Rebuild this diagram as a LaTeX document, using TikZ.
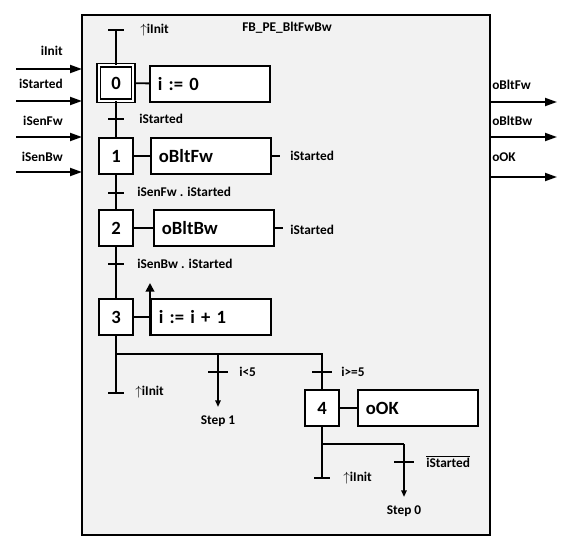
\documentclass[tikz,border=0pt]{standalone}
\usepackage{fontspec}
\setmainfont{Carlito}
\usetikzlibrary{arrows.meta}

\begin{document}
\begin{tikzpicture}[x=0.75pt,y=-0.75pt,
  line width=1.4pt,
  lbl/.style={font=\fontsize{10}{12}\selectfont\bfseries, inner sep=1pt},
  big/.style={font=\fontsize{14}{16}\selectfont\bfseries},
  stepbox/.style={draw, fill=white, big, minimum width=26pt, minimum height=27.5pt, inner sep=0pt},
  initbox/.style={stepbox, double, double distance=1.6pt, line width=1.2pt, minimum width=26pt, minimum height=26.5pt},
  actbox/.style={draw, fill=white, big, anchor=west, text width=78pt, inner xsep=6pt, minimum height=27.5pt, align=left},
  iotip/.style={-{Triangle[length=9pt,width=6pt]}},
  jumptip/.style={-{Triangle[length=5pt,width=4pt]}},
  pulsetip/.style={-{Triangle[length=6.5pt,width=6.5pt]}}]

\useasboundingbox (0,0) rectangle (573,550);

% Function block frame
\draw[fill=black!5, line width=1.5pt] (82,15) rectangle (490,535);
\node[lbl] (title) at (287,28) {FB\_PE\_BltFwBw};

% Inputs
\coordinate (in1) at (82,69);
\coordinate (in2) at (82,101);
\coordinate (in3) at (82,137);
\coordinate (in4) at (82,172);
\draw[iotip] (16,69) -- (in1);
\draw[iotip] (16,101) -- (in2);
\draw[iotip] (16,137) -- (in3);
\draw[iotip] (16,172) -- (in4);
\node[lbl, anchor=east] (iInit) at (65,51) {iInit};
\node[lbl, anchor=east] (iStarted) at (65,84) {iStarted};
\node[lbl, anchor=east] (iSenFw) at (65,121) {iSenFw};
\node[lbl, anchor=east] (iSenBw) at (65,157) {iSenBw};

% Outputs
\coordinate (out1) at (490,102);
\coordinate (out2) at (490,137);
\coordinate (out3) at (490,177);
\draw[iotip] (out1) -- (557,102);
\draw[iotip] (out2) -- (557,137);
\draw[iotip] (out3) -- (557,177);
\node[lbl, anchor=west] (oBltFw) at (490,85) {oBltFw};
\node[lbl, anchor=west] (oBltBw) at (490,121) {oBltBw};
\node[lbl, anchor=west] (oOK) at (490,157) {oOK};

% Steps
\node[initbox] (s0) at (116,83) {0};
\node[stepbox] (s1) at (116,156) {1};
\node[stepbox] (s2) at (116,228) {2};
\node[stepbox] (s3) at (116,317) {3};
\node[stepbox] (s4) at (322,408) {4};

% Actions
\node[actbox] (a0) at (149,84) {i := 0};
\node[actbox] (a1) at (150,156) {oBltFw};
\node[actbox] (a2) at (153,228) {oBltBw};
\node[actbox] (a3) at (150,317) {i := i + 1};
\node[actbox] (a4) at (357,408) {oOK};
\draw (s0) -- (a0);
\draw (s1) -- (a1);
\draw (s2) -- (a2);
\draw (s3) -- (a3);
\draw (s4) -- (a4);

% Reset conditions of the set actions
\coordinate (r1) at (280,156);
\coordinate (r2) at (283,228);
\draw (a1.east) -- (r1);
\draw (a2.east) -- (r2);
\node[lbl, anchor=west] (rc1) at (288,156) {iStarted};
\node[lbl, anchor=west] (rc2) at (288,230) {iStarted};

% Counter action arrow
\coordinate (up) at (150,283);
\draw[pulsetip] (a3.south west) -- (up);

% Main sequence
\coordinate (top) at (116,30);
\coordinate (end3) at (116,393);
\draw (top) -- (s0);
\draw (s0) -- (s1);
\draw (s1) -- (s2);
\draw (s2) -- (s3);
\draw (s3) -- (end3);
\draw (108,30) -- (124,30);
\draw (108,393) -- (124,393);
\node[lbl, anchor=west] (t0) at (138,30) {$\uparrow$iInit};
\node[lbl, anchor=west] (t3) at (133,392) {$\uparrow$iInit};

% Transitions
\draw (108,119) -- (124,119);
\draw (108,193) -- (124,193);
\draw (108,264) -- (124,264);
\node[lbl, anchor=west] (t01) at (137,119) {iStarted};
\node[lbl, anchor=west] (t12) at (135,192) {iSenFw . iStarted};
\node[lbl, anchor=west] (t23) at (135,264) {iSenBw . iStarted};

% Branch after step 3
\coordinate (b3) at (116,354);
\coordinate (b3a) at (218,354);
\coordinate (b3b) at (322,354);
\coordinate (j1) at (218,407);
\draw (b3) -- (b3b) -- (s4);
\draw[jumptip] (b3a) -- (j1);
\draw (208,372) -- (228,372);
\draw (312,372) -- (332,372);
\node[lbl, anchor=west] (t31) at (237,372) {i<5};
\node[lbl, anchor=west] (t34) at (339,372) {i>=5};
\node[lbl] (step1) at (218,421) {Step 1};

% Branch after step 4
\coordinate (end4) at (322,478);
\coordinate (b4) at (322,444);
\coordinate (b4a) at (404,444);
\coordinate (j0) at (404,497);
\draw (s4) -- (end4);
\draw (314,478) -- (330,478);
\node[lbl, anchor=west] (t4) at (341,478) {$\uparrow$iInit};
\draw (b4) -- (b4a);
\draw[jumptip] (b4a) -- (j0);
\draw (394,462) -- (414,462);
\node[lbl, anchor=west] (t40) at (424,462) {$\overline{\mbox{iStarted}}$};
\node[lbl] (step0) at (404,511) {Step 0};

\end{tikzpicture}
\end{document}
